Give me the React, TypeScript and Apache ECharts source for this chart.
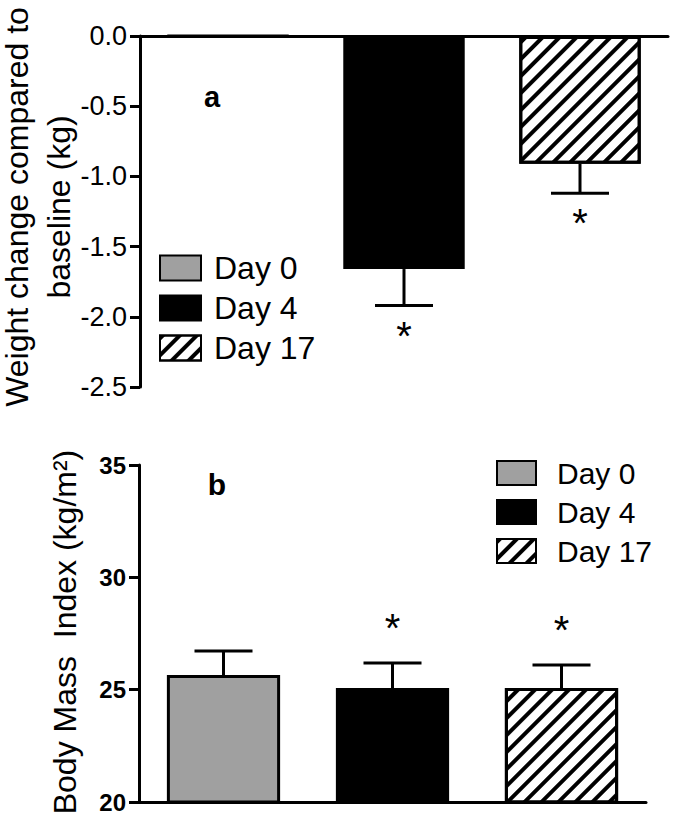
import React, { useEffect, useRef } from "react";
import * as echarts from "echarts";

const categories = ["Day 0", "Day 4", "Day 17"];
const weightChange = [0, -1.66, -0.91];
const weightErrEnd = [null, -1.92, -1.12];
const weightSig = ["", "*", "*"];
const bmi = [25.65, 25.07, 25.07];
const bmiErrEnd = [26.72, 26.19, 26.1];
const bmiSig = ["", "*", "*"];

const FONT = "Liberation Sans, Arial, Helvetica, sans-serif";

const styles = [
  { color: "#a0a0a0", borderColor: "#000", borderWidth: 3 },
  { color: "#000", borderColor: "#000", borderWidth: 3 },
  {
    color: "#fff",
    borderColor: "#000",
    borderWidth: 3,
    decal: {
      symbol: "rect",
      symbolSize: 1,
      dashArrayX: [1, 0],
      dashArrayY: [4, 8],
      rotation: -Math.PI / 4,
      color: "#000",
      backgroundColor: "#fff",
    },
  },
];

function barSeries(gridIdx: number, values: number[], width: string) {
  return categories.map((name, i) => ({
    type: "bar",
    name,
    xAxisIndex: gridIdx,
    yAxisIndex: gridIdx,
    barWidth: width,
    barGap: "-100%",
    itemStyle: styles[i],
    data: values.map((v, j) => (j === i ? v : "-")),
    z: 2,
  }));
}

function errSeries(
  gridIdx: number,
  values: number[],
  ends: (number | null)[],
  sig: string[],
  sigOffset: number
) {
  return {
    type: "custom",
    xAxisIndex: gridIdx,
    yAxisIndex: gridIdx,
    z: 5,
    silent: true,
    data: values.map((v, i) => [i, v, ends[i] == null ? v : ends[i]]),
    renderItem: (params: any, api: any) => {
      const i = params.dataIndex;
      if (ends[i] == null) return null;
      const p0 = api.coord([api.value(0), api.value(1)]);
      const p1 = api.coord([api.value(0), api.value(2)]);
      const half = 29;
      const children: any[] = [
        {
          type: "line",
          shape: { x1: p0[0], y1: p0[1], x2: p1[0], y2: p1[1] },
          style: { stroke: "#000", lineWidth: 3 },
        },
        {
          type: "line",
          shape: { x1: p1[0] - half, y1: p1[1], x2: p1[0] + half, y2: p1[1] },
          style: { stroke: "#000", lineWidth: 3 },
        },
      ];
      if (sig[i]) {
        children.push({
          type: "text",
          x: p1[0],
          y: p1[1] + sigOffset,
          style: {
            text: sig[i],
            fill: "#000",
            font: `40px ${FONT}`,
            textAlign: "center",
            textVerticalAlign: "middle",
          },
        });
      }
      return { type: "group", children };
    },
  };
}

export default function App() {
  const ref = useRef<HTMLDivElement>(null);
  useEffect(() => {
    if (!ref.current) return;
    const chart = echarts.init(ref.current, null, { renderer: "svg" });
    const axisLine = { show: true, lineStyle: { color: "#000", width: 3 } };
    const option: any = {
      animation: false,
      backgroundColor: "#fff",
      grid: [
        { left: 140, right: 7, top: 36, height: 351 },
        { left: 139, right: 29, top: 465, height: 337 },
      ],
      xAxis: [
        {
          gridIndex: 0,
          type: "category",
          data: categories,
          position: "top",
          axisLine: { ...axisLine, onZero: false },
          axisTick: { show: false },
          axisLabel: { show: false },
        },
        {
          gridIndex: 1,
          type: "category",
          data: categories,
          position: "bottom",
          axisLine: { ...axisLine, onZero: false },
          axisTick: { show: false },
          axisLabel: { show: false },
        },
      ],
      yAxis: [
        {
          gridIndex: 0,
          type: "value",
          min: -2.5,
          max: 0,
          interval: 0.5,
          axisLine: { ...axisLine, onZero: false },
          axisTick: { show: true, length: 10, lineStyle: { color: "#000", width: 3 } },
          splitLine: { show: false },
          axisLabel: {
            color: "#000",
            fontSize: 27,
            fontFamily: FONT,
            margin: 13,
            formatter: (v: number) => v.toFixed(1),
          },
        },
        {
          gridIndex: 1,
          type: "value",
          min: 20,
          max: 35,
          interval: 5,
          axisLine: { ...axisLine, onZero: false },
          axisTick: { show: true, length: 10, lineStyle: { color: "#000", width: 3 } },
          splitLine: { show: false },
          axisLabel: {
            color: "#000",
            fontSize: 24,
            fontWeight: "bold",
            fontFamily: FONT,
            margin: 13,
          },
        },
      ],
      legend: [
        {
          orient: "vertical",
          left: 159,
          top: 252,
          padding: 0,
          itemWidth: 41,
          itemHeight: 25,
          itemGap: 8,
          icon: "rect",
          selectedMode: false,
          data: categories,
          textStyle: {
            color: "#000",
            fontSize: 32,
            lineHeight: 32,
            fontFamily: FONT,
            padding: [0, 0, 0, 8],
          },
        },
        {
          orient: "vertical",
          left: 496,
          top: 458,
          padding: 0,
          itemWidth: 39,
          itemHeight: 24,
          itemGap: 9,
          icon: "rect",
          selectedMode: false,
          data: categories,
          textStyle: {
            color: "#000",
            fontSize: 30,
            lineHeight: 30,
            fontFamily: FONT,
            padding: [0, 0, 0, 16],
          },
        },
      ],
      graphic: [
        {
          type: "text",
          x: 212,
          y: 97,
          style: { text: "a", font: `bold 29px ${FONT}`, fill: "#000", textAlign: "center", textVerticalAlign: "middle" },
        },
        {
          type: "text",
          x: 217,
          y: 484,
          style: { text: "b", font: `bold 30px ${FONT}`, fill: "#000", textAlign: "center", textVerticalAlign: "middle" },
        },
        {
          type: "text",
          x: 38,
          y: 207,
          rotation: Math.PI / 2,
          style: {
            text: "Weight change compared to\nbaseline (kg)",
            font: `32px ${FONT}`,
            lineHeight: 42,
            fill: "#000",
            textAlign: "center",
            textVerticalAlign: "middle",
          },
        },
        {
          type: "text",
          x: 65,
          y: 632,
          rotation: Math.PI / 2,
          style: {
            text: "Body Mass  Index (kg/m²)",
            font: `32px ${FONT}`,
            fill: "#000",
            textAlign: "center",
            textVerticalAlign: "middle",
          },
        },
      ],
      series: [
        ...barSeries(0, weightChange, "69%"),
        ...barSeries(1, bmi, "67%"),
        errSeries(0, weightChange, weightErrEnd, weightSig, 30),
        errSeries(1, bmi, bmiErrEnd, bmiSig, -35),
      ],
    };
    chart.setOption(option);
    return () => chart.dispose();
  }, []);
  return (
    <div
      ref={ref}
      style={{ position: "absolute", left: 0, top: 0, width: 675, height: 819 }}
    />
  );
}
